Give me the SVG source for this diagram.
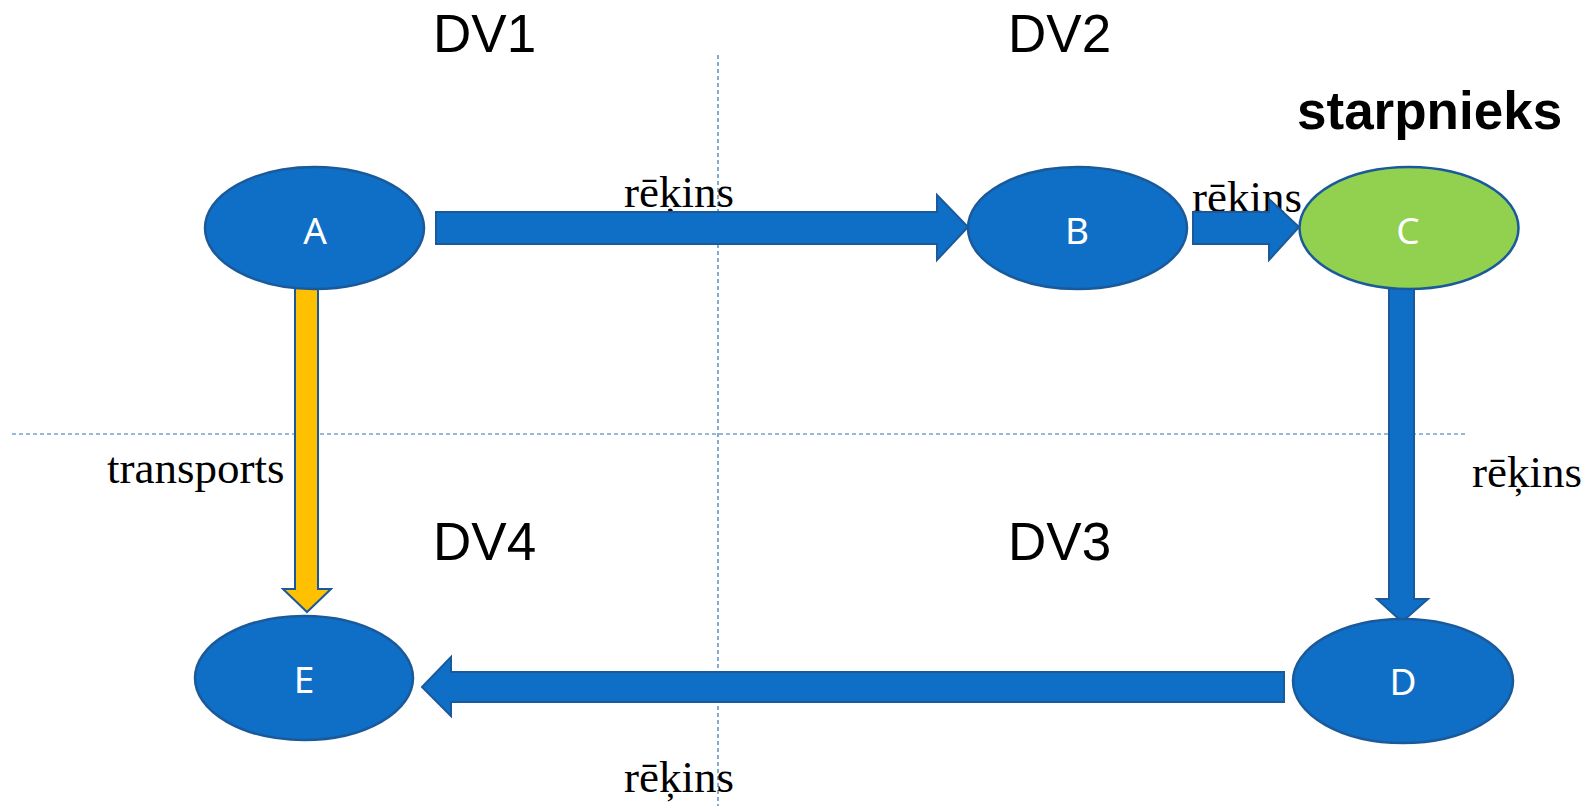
<svg xmlns="http://www.w3.org/2000/svg" width="1589" height="806" viewBox="0 0 1589 806">
<style>
.node{fill:#0F6FC6;stroke:#1A5A9A;stroke-width:2.5}
.green{fill:#92D050;stroke:#1A5A9A;stroke-width:2.5}
.lbl{font-family:"Noto Sans","Open Sans",sans-serif;font-size:37px;fill:#fff;text-anchor:middle}
.dv{font-family:"Liberation Sans",Arial,sans-serif;font-size:53px;fill:#000}
.rk{font-family:"Liberation Serif","Times New Roman",serif;font-size:45px;fill:#000}
.arr{fill:#0F6FC6;stroke:#1A5A9A;stroke-width:2}
.yarr{fill:#FFC000;stroke:#1A5A9A;stroke-width:2}
.dash{stroke:#2E75B6;stroke-width:1.2;stroke-dasharray:4 3;fill:none}
</style>
<rect width="1589" height="806" fill="#fff"/>
<g id="grid">
<line class="dash" x1="718" y1="55" x2="718" y2="806"/>
<line class="dash" x1="12" y1="434" x2="1467" y2="434"/>
</g>
<g id="labels">
<text class="dv" x="433" y="52">DV1</text>
<text class="dv" x="1008" y="52">DV2</text>
<text class="dv" x="433" y="560">DV4</text>
<text class="dv" x="1008" y="560">DV3</text>
<text x="1297" y="129" font-family="Liberation Sans,Arial,sans-serif" font-size="53" font-weight="bold" fill="#000">starpnieks</text>
<text class="rk" x="624" y="207">rēķins</text>
<text class="rk" x="1192" y="212">rēķins</text>
<text class="rk" x="1472" y="487">rēķins</text>
<text class="rk" x="624" y="792">rēķins</text>
<text class="rk" x="107" y="483">transports</text>
</g>
<g id="connectors">
<polygon class="arr" points="436,212 937,212 937,195 968,227 937,260 937,244 436,244"/>
<polygon class="arr" points="1193,212 1269,212 1269,199 1299,227 1269,260 1269,244 1193,244"/>
<polygon class="yarr" points="295,288 318,288 318,589 331,589 307,612 283,589 295,589"/>
<polygon class="arr" points="1389,288 1414,288 1414,599 1428,599 1402,622 1377,599 1389,599"/>
<polygon class="arr" points="1284,672 451,672 451,657 422,687 451,716 451,702 1284,702"/>
</g>
<g id="node-A"><ellipse class="node" cx="314.5" cy="228" rx="109.5" ry="61"/><text class="lbl" x="315" y="244">A</text></g>
<g id="node-B"><ellipse class="node" cx="1077.5" cy="228" rx="109.5" ry="61"/><text class="lbl" x="1077" y="244">B</text></g>
<g id="node-C"><ellipse class="green" cx="1409" cy="228" rx="109.5" ry="61"/><text class="lbl" x="1408" y="244">C</text></g>
<g id="node-D"><ellipse class="node" cx="1403" cy="681" rx="110" ry="62"/><text class="lbl" x="1403" y="695">D</text></g>
<g id="node-E"><ellipse class="node" cx="304" cy="678" rx="109" ry="62"/><text class="lbl" x="304" y="693">E</text></g>
</svg>
